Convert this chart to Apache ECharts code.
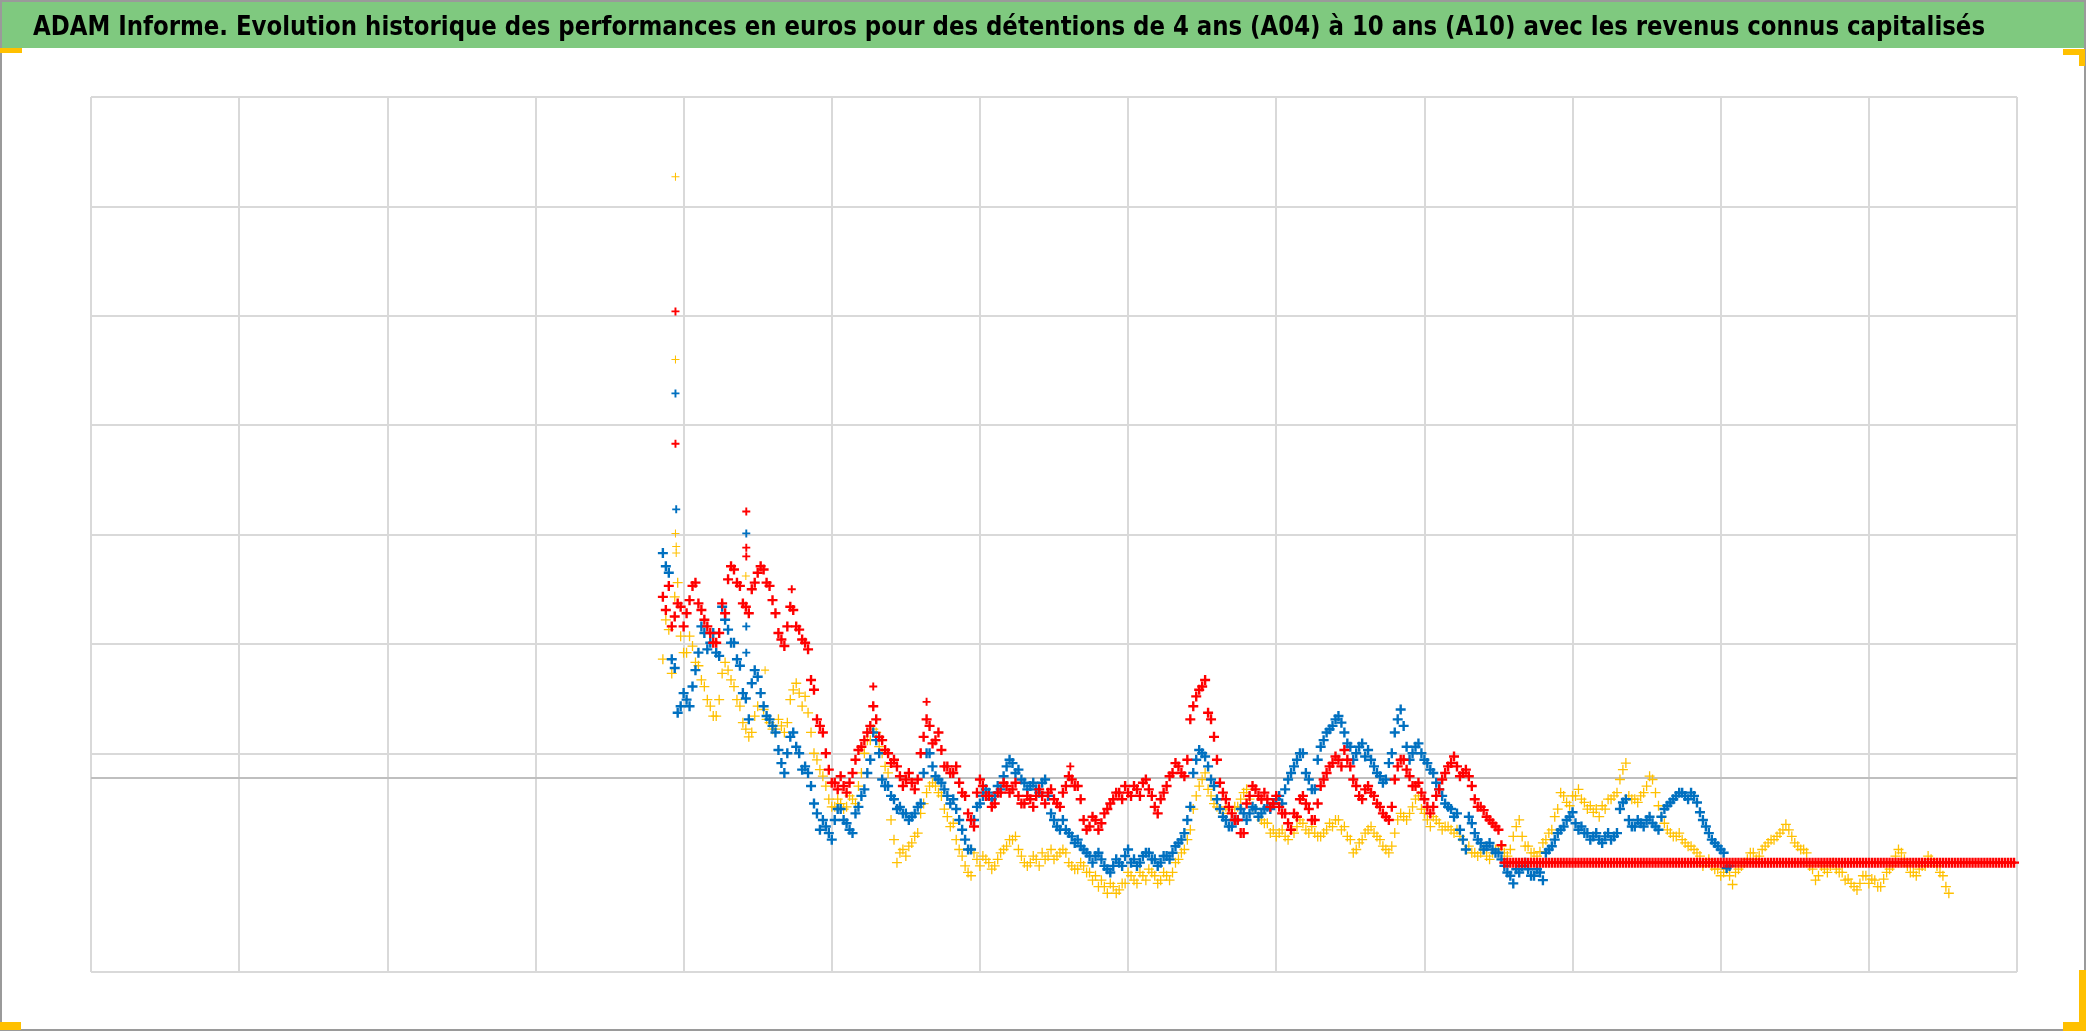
<!DOCTYPE html>
<html>
<head>
<meta charset="utf-8">
<script src="https://cdn.jsdelivr.net/npm/echarts@6/dist/echarts.min.js"></script>
<style>
html,body{margin:0;padding:0;background:#fff;}
#chart{width:2086px;height:1031px;}
</style>
</head>
<body>
<div id="chart"></div>
<script>
// ---------- DATA ----------
const titleText = 'ADAM Informe. Evolution historique des performances en euros pour des détentions de 4 ans (A04) à 10 ans (A10) avec les revenus connus capitalisés';
const seriesNames = ['A04', 'A07', 'A10'];
// observation dates (x axis units): first date, spacing, offset of the in-between readings
const startX = 3.86;
const stepX = 0.04;
const midOffset = 0.02;
// value where the horizontal axis crosses
const axisCross = 78;

// readings at startX + i*stepX
const yellowVals = [
  186, 213, 243, 207, 192, 198, 180, 161, 143, 134,
  173, 176, 161, 143, 122, 119, 143, 140, 128, 122,
  125, 128, 158, 155, 152, 119, 94, 79, 58, 51,
  54, 51, 58, 70, 100, 112, 119, 100, 82, 21,
  9, 6, 18, 27, 54, 70, 70, 61, 42, 36,
  12, -3, -12, 3, 6, 0, -3, 9, 15, 21,
  12, 0, 0, 3, 9, 6, 3, 9, 9, -3,
  -6, -3, -9, -12, -16, -28, -22, -25, -19, -12,
  -19, -12, -6, -12, -16, -12, -9, 3, 12, 30,
  61, 76, 67, 54, 49, 51, 45, 51, 64, 58,
  49, 39, 36, 30, 27, 24, 30, 33, 36, 27,
  27, 24, 30, 33, 39, 33, 21, 12, 21, 30,
  27, 21, 12, 15, 39, 42, 45, 58, 49, 39,
  42, 36, 33, 30, 30, 21, 15, 9, 9, 6,
  9, 12, 9, 12, 33, 24, 15, 9, 10, 21,
  30, 49, 61, 52, 61, 58, 49, 46, 42, 49,
  58, 64, 85, 61, 58, 61, 70, 76, 52, 36,
  27, 24, 21, 15, 12, 6, 0, -3, -6, -9,
  -12, -9, -3, 3, 9, 6, 15, 21, 24, 30,
  30, 18, 12, 9, -6, -12, -6, -3, -6, -9,
  -15, -22, -19, -12, -15, -22, -15, -6, 6, 9,
  -3, -9, -6, -3, 3, -3, -12, -28
];
// readings at startX + midOffset + i*stepX
const yellowMid = [
  222, 173, 256, 192, 207, 183, 167, 149, 134, 149,
  183, 167, 149, 128, 115, 134, 155, 131, 122, 131,
  119, 149, 164, 143, 137, 100, 85, 70, 51, 58,
  49, 61, 54, 82, 112, 122, 106, 88, 39, 0,
  12, 15, 24, 45, 64, 73, 64, 49, 33, 21,
  6, -9, 9, -3, 3, -6, 3, 12, 21, 24,
  6, -3, 6, -3, 3, 12, 6, 12, 0, -6,
  0, -9, -16, -22, -22, -19, -28, -19, -9, -16,
  -9, -16, -9, -19, -9, -16, 0, 9, 21, 49,
  70, 82, 61, 51, 45, 49, 51, 58, 67, 51,
  42, 36, 27, 24, 30, 21, 27, 39, 30, 33,
  24, 27, 36, 39, 30, 24, 9, 18, 27, 33,
  24, 15, 9, 27, 45, 39, 51, 61, 45, 33,
  39, 30, 33, 27, 24, 12, 9, 6, 12, 3,
  12, 15, 6, 24, 39, 15, 9, 6, 18, 27,
  42, 64, 55, 61, 67, 55, 52, 49, 52, 58,
  61, 76, 91, 58, 55, 64, 79, 64, 42, 30,
  24, 27, 18, 15, 9, -3, 3, -6, -12, -6,
  -20, -6, 0, 9, 3, 12, 18, 21, 27, 35,
  24, 15, 12, -3, -16, -3, -9, 0, -9, -16,
  -19, -25, -12, -19, -16, -22, -9, -3, 12, 3,
  -9, -12, -3, 6, 0, -9, -22
];

const blueVals = [
  283, 265, 178, 143, 149, 161, 192, 210, 201, 192,
  234, 213, 201, 180, 150, 164, 170, 143, 131, 119,
  91, 100, 119, 100, 88, 70, 45, 39, 27, 39,
  49, 36, 27, 51, 67, 94, 112, 76, 70, 58,
  51, 45, 42, 51, 82, 100, 79, 73, 61, 58,
  39, 21, 12, 51, 61, 64, 61, 67, 88, 91,
  85, 73, 70, 67, 73, 61, 39, 30, 30, 24,
  21, 12, 6, 6, 3, -6, -3, 0, 6, 0,
  -3, 6, 9, 3, 0, 6, 9, 18, 27, 51,
  94, 100, 88, 70, 49, 39, 33, 39, 45, 45,
  49, 45, 51, 54, 61, 67, 82, 94, 100, 76,
  67, 106, 119, 125, 134, 119, 106, 100, 109, 103,
  88, 79, 76, 100, 131, 125, 94, 106, 100, 91,
  82, 67, 54, 49, 45, 21, 42, 27, 18, 15,
  12, 9, -3, -12, -6, -3, -6, -12, -9, 9,
  15, 27, 33, 42, 36, 33, 27, 24, 21, 24,
  21, 27, 55, 39, 33, 36, 39, 36, 30, 49,
  55, 61, 64, 58, 61, 46, 33, 21, 15, 9, -3
];
const blueMid = [
  271, 186, 137, 155, 143, 176, 216, 195, 210, 189,
  222, 201, 186, 155, 131, 176, 155, 134, 125, 103,
  82, 115, 106, 85, 82, 54, 30, 33, 21, 49,
  39, 30, 45, 61, 82, 119, 100, 70, 61, 49,
  45, 39, 45, 54, 100, 88, 76, 67, 54, 49,
  30, 12, 39, 54, 67, 58, 70, 79, 94, 82,
  76, 67, 73, 64, 76, 45, 33, 39, 27, 18,
  15, 9, 0, 9, -3, -9, 3, -3, 12, 3,
  0, 9, 3, -3, 6, 3, 15, 21, 39, 82,
  103, 97, 76, 58, 42, 33, 39, 49, 39, 51,
  42, 49, 49, 58, 54, 76, 88, 100, 82, 67,
  94, 112, 122, 131, 128, 109, 94, 106, 97, 94,
  82, 73, 91, 119, 140, 106, 100, 109, 94, 85,
  73, 61, 51, 42, 30, 12, 36, 21, 12, 18,
  9, 3, -9, -19, -9, 0, -12, -6, -16, 12,
  21, 30, 39, 46, 30, 27, 21, 27, 18, 27,
  24, 49, 58, 33, 39, 33, 42, 33, 42, 52,
  58, 64, 61, 64, 55, 39, 27, 18, 12, -5
];

const redVals = [
  243, 253, 225, 234, 228, 253, 237, 222, 210, 201,
  237, 259, 268, 253, 234, 250, 265, 268, 253, 228,
  204, 216, 231, 213, 201, 167, 131, 119, 85, 73,
  79, 64, 82, 103, 112, 125, 131, 112, 100, 94,
  79, 76, 73, 76, 115, 125, 112, 103, 88, 82,
  73, 61, 39, 64, 70, 61, 54, 64, 70, 67,
  61, 54, 58, 61, 61, 64, 58, 51, 70, 76,
  70, 39, 33, 39, 36, 49, 58, 64, 70, 61,
  67, 73, 67, 51, 58, 70, 82, 88, 79, 131,
  152, 161, 137, 115, 73, 58, 45, 39, 27, 61,
  67, 58, 58, 54, 51, 45, 30, 42, 61, 49,
  39, 70, 82, 91, 94, 103, 88, 70, 58, 70,
  61, 51, 42, 51, 88, 94, 79, 70, 64, 51,
  51, 67, 82, 91, 88, 82, 79, 58, 51, 42,
  36, 30,
  0, 0, 0, 0, 0, 0, 0, 0, 0, 0,
  0, 0, 0, 0, 0, 0, 0, 0, 0, 0,
  0, 0, 0, 0, 0, 0, 0, 0, 0, 0,
  0, 0, 0, 0, 0, 0, 0, 0, 0, 0,
  0, 0, 0, 0, 0, 0, 0, 0, 0, 0,
  0, 0, 0, 0, 0, 0, 0, 0, 0, 0,
  0, 0, 0, 0, 0, 0, 0, 0, 0, 0,
  0, 0, 0, 0, 0, 0, 0, 0, 0, 0,
  0, 0, 0, 0, 0, 0, 0
];
const redMid = [
  231, 216, 237, 216, 240, 256, 231, 216, 201, 210,
  228, 271, 256, 237, 228, 256, 271, 256, 240, 210,
  198, 234, 216, 204, 195, 158, 125, 100, 73, 67,
  70, 73, 94, 106, 119, 143, 115, 103, 91, 88,
  70, 82, 67, 100, 131, 109, 119, 88, 82, 88,
  64, 45, 33, 76, 61, 51, 64, 73, 64, 73,
  54, 61, 51, 67, 54, 67, 54, 64, 79, 70,
  58, 30, 42, 30, 45, 54, 64, 58, 64, 70,
  61, 76, 61, 45, 64, 79, 91, 82, 94, 143,
  158, 167, 131, 94, 64, 51, 39, 27, 54, 70,
  61, 64, 51, 61, 45, 36, 45, 58, 54, 39,
  54, 76, 88, 97, 88, 94, 76, 61, 67, 64,
  54, 45, 39, 76, 94, 85, 70, 73, 58, 45,
  61, 76, 88, 97, 79, 85, 70, 51, 48, 39,
  33, 16,
  0, 0, 0, 0, 0, 0, 0, 0, 0, 0,
  0, 0, 0, 0, 0, 0, 0, 0, 0, 0,
  0, 0, 0, 0, 0, 0, 0, 0, 0, 0,
  0, 0, 0, 0, 0, 0, 0, 0, 0, 0,
  0, 0, 0, 0, 0, 0, 0, 0, 0, 0,
  0, 0, 0, 0, 0, 0, 0, 0, 0, 0,
  0, 0, 0, 0, 0, 0, 0, 0, 0, 0,
  0, 0, 0, 0, 0, 0, 0, 0, 0, 0,
  0, 0, 0, 0, 0, 0
];

// isolated observations (x, value)
const yellowSpikes = [[3.945, 627], [3.945, 460], [3.945, 301], [3.95, 289], [3.95, 283], [4.42, 262], [4.55, 176]];
const blueSpikes = [[3.945, 429], [3.95, 323], [4.423, 301], [4.423, 216], [4.423, 192]];
const redSpikes = [[3.945, 504], [3.945, 383], [4.423, 321], [4.423, 288], [4.423, 280], [4.73, 250], [5.28, 161], [5.64, 147], [6.61, 88]];

// ---------- CHART ----------
const spikeSize = 8;
function toPoints(vals, mids, spikes) {
  const a = vals.map((v, i) => [+(startX + i * stepX).toFixed(3), v]);
  const b = mids.map((v, i) => [+(startX + midOffset + i * stepX).toFixed(3), v]);
  const c = spikes.map(p => ({value: p, symbolSize: spikeSize}));
  return a.concat(b, c);
}

const plusThick = 'path://M3.8,0H6.2V3.8H10V6.2H6.2V10H3.8V6.2H0V3.8H3.8Z';
const plusThin = 'path://M4.35,0H5.65V4.35H10V5.65H5.65V10H4.35V5.65H0V4.35H4.35Z';

const titleFont = 'bold 27px "Liberation Sans Narrow", "DejaVu Sans Condensed", "Liberation Sans", sans-serif';
const measureCtx = document.createElement('canvas').getContext('2d');
measureCtx.font = titleFont;
const titleW = measureCtx.measureText(titleText).width || 1952;
const titleScale = 1952 / titleW;

const grid = '#d9d9d9';
const yLineColors = [grid, 'rgba(0,0,0,0)', grid, grid, grid, grid, grid, grid, grid];

const chart = echarts.init(document.getElementById('chart'), null, {renderer: 'canvas'});
chart.setOption({
  animation: false,
  backgroundColor: '#ffffff',
  grid: {left: 91, top: 97, width: 1926, height: 875},
  xAxis: {
    type: 'value', min: 0, max: 13, interval: 1,
    axisLabel: {show: false}, axisTick: {show: false}, axisLine: {show: false},
    splitLine: {show: true, lineStyle: {color: grid, width: 2}}
  },
  yAxis: {
    type: 'value', min: -100, max: 700, interval: 100,
    axisLabel: {show: false}, axisTick: {show: false}, axisLine: {show: false},
    splitLine: {show: true, lineStyle: {color: yLineColors, width: 2}}
  },
  graphic: [
    {type: 'rect', shape: {x: 0, y: 0, width: 2086, height: 48}, style: {fill: '#7FC97F'}, z: 10, silent: true},
    {type: 'rect', shape: {x: 1, y: 1, width: 2084, height: 1029}, style: {fill: 'none', stroke: '#9a9a9a', lineWidth: 2}, z: 11, silent: true},
    {type: 'text', x: 33, y: 28, scaleX: titleScale, z: 12, silent: true,
      style: {text: titleText, font: titleFont, fill: '#000000', verticalAlign: 'middle', align: 'left'}},
    {type: 'rect', shape: {x: 0, y: 48, width: 22, height: 5}, style: {fill: '#FFC000'}, z: 12, silent: true},
    {type: 'rect', shape: {x: 2063, y: 49, width: 22, height: 6}, style: {fill: '#FFC000'}, z: 12, silent: true},
    {type: 'rect', shape: {x: 2079, y: 49, width: 6, height: 17}, style: {fill: '#FFC000'}, z: 12, silent: true},
    {type: 'rect', shape: {x: 0, y: 1022, width: 21, height: 8}, style: {fill: '#FFC000'}, z: 12, silent: true},
    {type: 'rect', shape: {x: 2079, y: 970, width: 7, height: 61}, style: {fill: '#FFC000'}, z: 12, silent: true},
    {type: 'rect', shape: {x: 2063, y: 1022, width: 23, height: 9}, style: {fill: '#FFC000'}, z: 12, silent: true}
  ],
  series: [
    {
      name: seriesNames[0], type: 'scatter', data: toPoints(yellowVals, yellowMid, yellowSpikes),
      symbol: plusThin, symbolSize: 10, itemStyle: {color: '#FFC000', opacity: 1},
      emphasis: {disabled: true}, silent: true,
      markLine: {
        silent: true, z: 1, symbol: ['none', 'none'], label: {show: false},
        lineStyle: {color: '#bfbfbf', width: 2, type: 'solid'},
        emphasis: {disabled: true},
        data: [{yAxis: axisCross}]
      }
    },
    {
      name: seriesNames[1], type: 'scatter', data: toPoints(blueVals, blueMid, blueSpikes),
      symbol: plusThick, symbolSize: 10, itemStyle: {color: '#0070C0', opacity: 1},
      emphasis: {disabled: true}, silent: true
    },
    {
      name: seriesNames[2], type: 'scatter', data: toPoints(redVals, redMid, redSpikes),
      symbol: plusThick, symbolSize: 10, itemStyle: {color: '#FF0000', opacity: 1},
      emphasis: {disabled: true}, silent: true
    }
  ]
});
</script>
</body>
</html>
